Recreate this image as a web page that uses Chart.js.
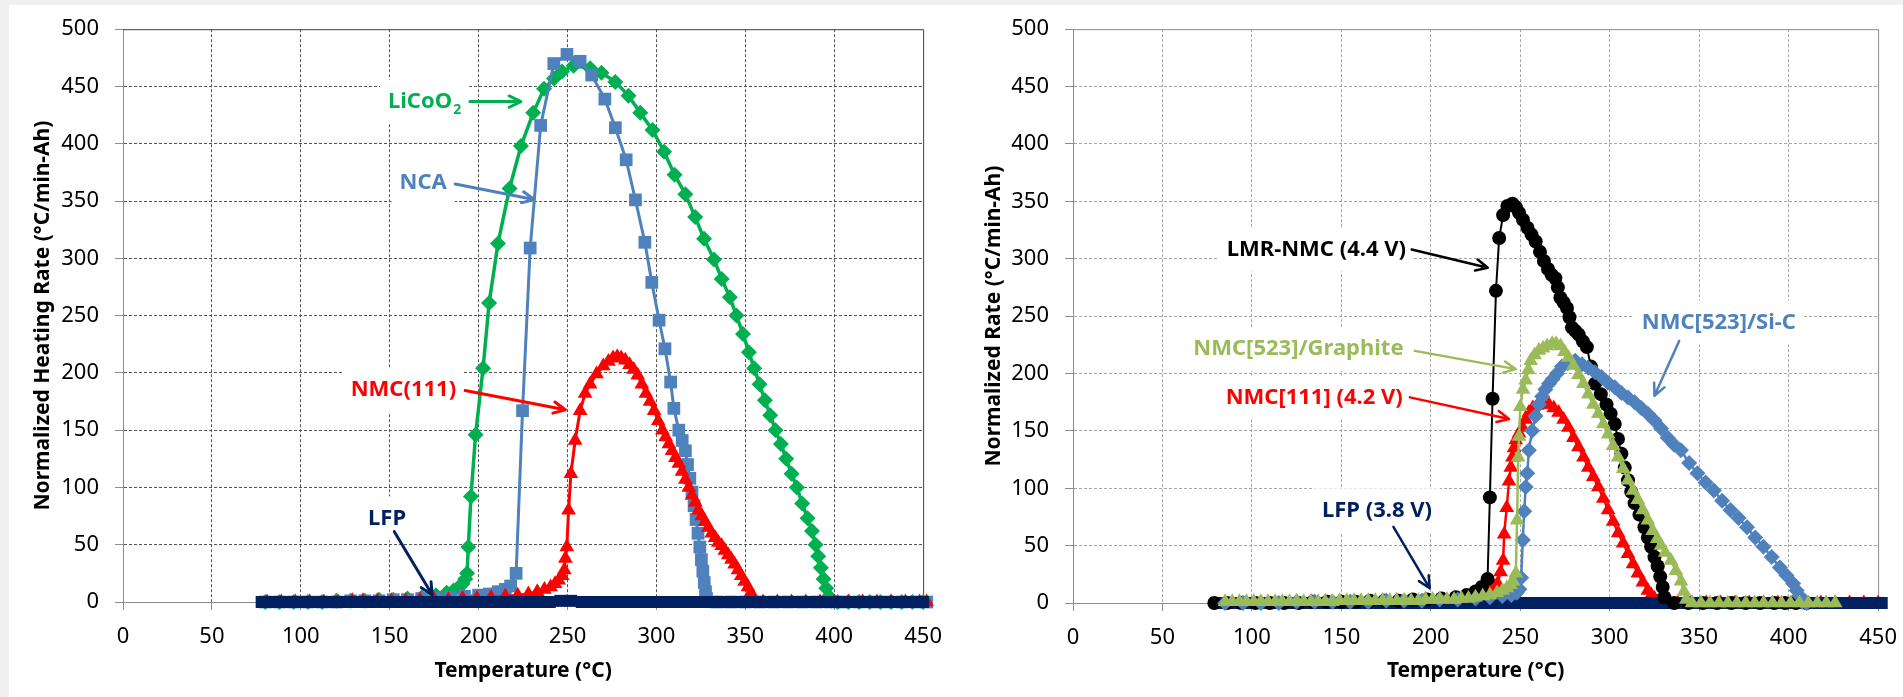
<!DOCTYPE html>
<html>
<head>
<meta charset="utf-8">
<script src="https://cdn.jsdelivr.net/npm/chart.js@4.4.1/dist/chart.umd.min.js"></script>
<style>
  html, body { margin: 0; padding: 0; }
  body { width: 1903px; height: 697px; background: #f0f0f0; overflow: hidden; position: relative; }
  #sheet { position: absolute; left: 9px; top: 5px; right: 0; bottom: 0; background: #fff; }
  canvas { position: absolute; top: 0; }
  #leftChart { left: 0; }
  #rightChart { left: 951px; }
</style>
</head>
<body>
<div id="sheet"></div>
<canvas id="leftChart" width="956" height="697"></canvas>
<canvas id="rightChart" width="960" height="697"></canvas>
<script>
// ---- left panel: cathode comparison ----
const licoo2T = [80, 88, 96, 104, 112, 120, 128, 136, 144, 152, 160, 168, 176, 182, 186, 189, 191, 192.5, 193.5, 194.2, 195.7, 198.3, 202.5, 205.9, 210.9, 217.4, 223.8, 230.7, 236.8, 242.4, 246.9, 253.4, 262.7, 269.1, 276.9, 284.3, 290.9, 297.8, 304.3, 310.2, 316.3, 321.8, 326.8, 332.4, 336.7, 341.3, 345, 348.7, 352, 355, 358, 361, 364, 367, 370, 373, 376, 379, 382, 385, 387.5, 389.5, 391, 392.5, 394, 395.5, 397, 398.5, 402, 408, 414, 420, 426, 432, 438, 444, 450, 453];
const licoo2Rate = [0, 0, 0, 0, 0, 1, 1, 1, 2, 2, 3, 4, 6, 8, 10, 13, 16, 20, 25, 48, 92, 146, 204, 261, 313, 361, 398, 427, 448, 457, 463, 468, 466, 462, 454, 442, 427, 412, 393, 373, 356, 336, 317, 299, 282, 266, 250, 234, 218, 204, 190, 176, 163, 150, 138, 125, 112, 100, 86, 73, 62, 50, 40, 30, 20, 12, 5, 1, 0, 0, 0, 0, 0, 0, 0, 0, 0, 0];

const ncaT = [80, 88, 96, 104, 112, 120, 128, 136, 144, 152, 160, 168, 176, 184, 192, 200, 206, 211, 215, 218, 221.1, 224.7, 229, 234.9, 242.3, 249.7, 257.1, 263.6, 271, 276.9, 283, 288.2, 293.5, 297.4, 301.5, 304.8, 308, 309.8, 312.6, 314.5, 316.3, 317.5, 318.8, 320, 321.2, 322.3, 323.4, 324.4, 325.3, 326.1, 326.9, 327.6, 328.2, 334, 342, 350, 358, 366, 374, 382, 390, 398, 406, 414, 422, 430, 438, 446, 452];
const ncaRate = [0, 0, 0, 0, 0, 0, 1, 1, 1, 2, 2, 3, 3, 4, 5, 6, 7, 9, 11, 14, 25, 167, 309, 416, 470, 478, 472, 460, 439, 414, 386, 351, 314, 279, 246, 221, 192, 169, 150, 141, 132, 120, 108, 96, 84, 72, 60, 48, 37, 27, 17, 9, 3, 0, 0, 0, 0, 0, 0, 0, 0, 0, 0, 0, 0, 0, 0, 0, 0];

const nmcT = [81, 89, 97, 105, 113, 121, 129, 135, 143, 151, 159, 167, 175, 183, 191, 199, 207, 215, 222, 228, 233, 237, 240.5, 243, 245, 247, 248.2, 248.8, 249.6, 250.6, 251.9, 254.3, 257.1, 259.9, 262.7, 266.3, 270.1, 273, 275.6, 278, 280.2, 282.5, 284.9, 287.2, 289.5, 291.8, 294.1, 296.4, 298.7, 301, 303.4, 305.2, 307, 308.8, 310.7, 312.6, 314.4, 316.3, 318.2, 320, 321.9, 323.7, 325.5, 327.4, 329.2, 331.1, 333, 334.8, 336.7, 338.5, 340.4, 342.2, 344, 345.9, 347.7, 349.6, 351.5, 353, 354.2, 355.5, 360, 368, 376, 384, 392, 400, 408, 416, 424, 432, 440, 448, 452];
const nmcRate = [0, 0, 0, 0, 0, 0, 1, 1, 1, 1, 1, 2, 2, 2, 3, 3, 4, 5, 6, 7, 9, 11, 13, 16, 19, 23, 28, 38, 48, 80, 112, 141, 167, 182, 190, 199, 206, 210, 213, 214, 213, 211, 207, 203, 198, 190, 182, 175, 167, 158, 150, 144, 138, 132, 126, 121, 114, 107, 100, 93, 87, 80, 75, 70, 65, 60, 56, 52, 49, 45, 41, 37, 33, 28, 23, 18, 13, 8, 5, 1, 0, 0, 0, 0, 0, 0, 0, 0, 0, 0, 0, 0, 0];

const lfpT = [78, 84, 90, 96, 102, 108, 114, 120, 126, 132, 138, 144, 150, 156, 162, 168, 174, 180, 186, 192, 198, 204, 210, 216, 222, 228, 234, 240, 246, 252, 258, 264, 270, 276, 282, 288, 294, 300, 306, 312, 318, 324, 330, 336, 342, 348, 354, 360, 366, 372, 378, 384, 390, 396, 402, 408, 414, 420, 426, 432, 438, 444, 450];
const lfpRate = [0, 0, 0, 0, 0, 0, 0, 0, 0, 0, 0, 0, 0, 0, 0, 0, 0, 0, 0, 0, 0, 0, 0, 0, 0, 0, 0, 0, 1, 1, 0, 0, 0, 0, 0, 0, 0, 0, 0, 0, 0, 0, 0, 0, 0, 0, 0, 0, 0, 0, 0, 0, 0, 0, 0, 0, 0, 0, 0, 0, 0, 0, 0];

// ---- right panel: cell chemistries ----
const lmrT = [79, 86, 94, 102, 110, 118, 126, 134, 142, 150, 158, 166, 174, 182, 190, 198, 206, 214, 220, 225, 228.5, 231.7, 233, 234.5, 236.4, 238.2, 240.4, 242.8, 245.6, 247.5, 249.3, 251.5, 254, 256.3, 258.6, 261, 263.2, 265.5, 267.5, 269.6, 271, 272.4, 274.2, 276.1, 277.5, 278.9, 280.8, 282.6, 285, 287.2, 289.5, 291.8, 295, 298.2, 300.5, 302.8, 304.6, 306.5, 308.4, 310.2, 312, 313.9, 316.6, 319.4, 321.3, 323.1, 325, 326.8, 328.2, 329.6, 330.5, 336, 344, 352, 360, 368, 376, 384, 392, 398, 404, 410];
const lmrRate = [0, 0, 0, 0, 0, 0, 0, 1, 1, 1, 1, 2, 2, 2, 3, 3, 4, 5, 7, 10, 14, 21, 92, 178, 272, 318, 338, 346, 348, 345, 340, 334, 327, 321, 315, 306, 298, 291, 286, 283, 275, 266, 262, 257, 249, 240, 237, 234, 228, 223, 206, 191, 182, 173, 165, 156, 143, 130, 118, 107, 97, 87, 77, 66, 57, 49, 40, 32, 23, 14, 5, 0, 0, 0, 0, 0, 0, 0, 0, 0, 0, 0];

const graphiteT = [85, 89, 93, 97, 101, 105, 109, 113, 117, 121, 125, 129, 133, 137, 141, 145, 149, 153, 157, 161, 165, 169, 173, 177, 181, 185, 189, 193, 197, 201, 205, 209, 213, 217, 221, 225, 229, 233, 237, 240, 242.5, 244.5, 246, 247.5, 248.2, 248.8, 249.3, 250, 251.5, 253, 254.5, 255.8, 258, 260.4, 262.7, 265, 267.8, 270, 272.5, 274.7, 276.9, 279.7, 282.5, 285.3, 288, 290.8, 293.6, 296.4, 299.1, 301.9, 304.7, 307.5, 310.2, 313, 315.7, 318.5, 321.3, 324, 326.5, 328.7, 331, 334.2, 337, 339.8, 341.5, 342.8, 346, 351, 356, 361, 366, 371, 376, 381, 386, 391, 396, 401, 406, 411, 416, 421, 426];
const graphiteRate = [1, 1, 1, 1, 1, 1, 1, 1, 1, 1, 1, 1, 1, 1, 1, 1, 2, 2, 2, 2, 2, 2, 2, 2, 2, 2, 2, 2, 3, 3, 3, 3, 3, 4, 4, 5, 6, 7, 9, 11, 13, 16, 19, 26, 72, 127, 145, 171, 186, 194, 203, 211, 216, 220, 222, 224, 226, 226, 224, 219, 214, 207, 199, 191, 182, 173, 165, 156, 147, 137, 127, 117, 107, 98, 90, 81, 72, 63, 56, 50, 44, 37, 28, 19, 10, 3, 0, 0, 0, 0, 0, 0, 0, 0, 0, 0, 0, 0, 0, 0, 0, 0, 0];

const siCT = [85, 95, 105, 115, 125, 135, 145, 155, 165, 175, 185, 195, 205, 215, 225, 233, 240, 245, 248, 249.5, 250.5, 251.4, 252.2, 253, 253.9, 254.8, 256.6, 258.5, 260.4, 262.2, 264, 266, 268, 270.5, 273.3, 276.5, 280.7, 284.5, 288, 291.7, 295.4, 299, 302.8, 306.5, 310.2, 313.9, 317.6, 321.3, 325, 328.7, 332.4, 336, 339.8, 344.4, 349, 353.6, 358.2, 362.8, 367.5, 372, 376.7, 381.3, 385.9, 390.5, 395.1, 398.8, 402.5, 404.5, 406.2, 407.5, 410];
const siCRate = [0, 0, 0, 0, 1, 1, 1, 1, 1, 2, 2, 2, 3, 3, 4, 5, 6, 7, 9, 12, 22, 55, 80, 101, 113, 133, 150, 163, 173, 180, 186, 191, 195, 200, 206, 209, 211, 208, 205, 201, 197, 192, 188, 183, 179, 175, 170, 165, 159, 152, 144, 138, 133, 122, 113, 105, 98, 89, 81, 74, 66, 57, 49, 40, 31, 24, 17, 11, 6, 1, 0];

const nmc111T = [85, 93, 101, 109, 117, 125, 133, 141, 149, 157, 165, 173, 181, 189, 197, 205, 213, 220, 226, 230, 233, 235.5, 237.3, 239, 240.4, 241, 242.4, 243.7, 244.7, 245.6, 246.5, 247.5, 249.3, 251.2, 253, 254.8, 257, 259.5, 262.7, 266, 268.7, 271.4, 274.2, 276.9, 279.7, 282.5, 285.3, 288, 290.8, 293.6, 296.4, 299.1, 301.9, 304.7, 307.5, 310.2, 313, 315.7, 318.5, 321.3, 323.2, 325, 326.5, 330, 338, 346, 354, 362, 370, 378, 386, 394, 402, 410, 418, 426, 434, 442, 450, 452];
const nmc111Rate = [0, 0, 0, 0, 0, 1, 1, 1, 1, 1, 1, 2, 2, 2, 3, 3, 4, 5, 7, 9, 11, 14, 17, 27, 37, 60, 83, 106, 118, 127, 135, 142, 148, 153, 160, 166, 170, 172, 173, 173, 170, 166, 160, 153, 144, 136, 127, 118, 110, 101, 91, 81, 71, 61, 52, 43, 34, 26, 18, 11, 7, 4, 1, 0, 0, 0, 0, 0, 0, 0, 0, 0, 0, 0, 0, 0, 0, 0, 0, 0];

const lfp38T = [80, 86, 92, 98, 104, 110, 116, 122, 128, 134, 140, 146, 152, 158, 164, 170, 176, 182, 188, 194, 200, 206, 212, 218, 224, 230, 236, 242, 248, 254, 260, 266, 272, 278, 284, 290, 296, 302, 308, 314, 320, 326, 332, 338, 344, 350, 356, 362, 368, 374, 380, 386, 392, 398, 404, 410, 416, 422, 428, 434, 440, 446, 452];
const lfp38Rate = [0, 0, 0, 0, 0, 0, 0, 0, 0, 0, 0, 0, 0, 0, 0, 0, 0, 0, 0, 0, 0, 0, 0, 0, 0, 0, 0, 0, 0, 0, 0, 0, 0, 0, 0, 0, 0, 0, 0, 0, 0, 0, 0, 0, 0, 0, 0, 0, 0, 0, 0, 0, 0, 0, 0, 0, 0, 0, 0, 0, 0, 0, 0];

const FONT = '"Noto Sans", "Open Sans", sans-serif';
Chart.defaults.font.family = FONT;
Chart.defaults.color = '#000';

function series(label, xs, ys, color, style, radius, width, order) {
  return {
    label,
    data: xs.map((t, i) => ({ x: t, y: ys[i] })),
    borderColor: color,
    backgroundColor: color,
    pointBackgroundColor: color,
    pointBorderColor: color,
    pointBorderWidth: 0,
    pointStyle: style,
    pointRadius: radius,
    borderWidth: width,
    tension: 0,
    clip: false,
    order
  };
}

function axes(gridColor, yTitle, yWidth, xHeight) {
  const skipEdges = (lo, hi) => c =>
    (c.tick && (c.tick.value === lo || c.tick.value === hi)) ? 'rgba(0,0,0,0)' : gridColor;
  return {
    x: {
      type: 'linear', min: 0, max: 450,
      afterFit: s => { s.height = xHeight; },
      ticks: { stepSize: 50, autoSkip: false, maxRotation: 0, padding: 14, font: { size: 22 }, color: '#000' },
      grid: { color: skipEdges(0, 450), tickColor: '#8c8c8c', tickLength: 8, lineWidth: 1 },
      border: { color: '#8c8c8c', width: 1, dash: [3, 2] },
      title: { display: true, text: 'Temperature (°C)', color: '#000',
               font: { size: 21, weight: 'bold' }, padding: { top: 0, bottom: 13 } }
    },
    y: {
      type: 'linear', min: 0, max: 500,
      afterFit: s => { s.width = yWidth; },
      ticks: { stepSize: 50, padding: 16, font: { size: 22 }, color: '#000' },
      grid: { color: skipEdges(0, 500), tickColor: '#8c8c8c', tickLength: 8, lineWidth: 1 },
      border: { color: '#8c8c8c', width: 1, dash: [3, 2] },
      title: { display: true, text: yTitle, color: '#000',
               font: { size: 21, weight: 'bold' }, padding: { top: 30, bottom: 0 } }
    }
  };
}

// top and right edges of the plot box
function frame(color) {
  return {
    id: 'frame',
    beforeDatasetsDraw(chart) {
      const { ctx, chartArea: a } = chart;
      ctx.save();
      ctx.strokeStyle = color;
      ctx.lineWidth = 1;
      ctx.beginPath();
      ctx.moveTo(a.left, a.top + 0.5);
      ctx.lineTo(a.right + 0.5, a.top + 0.5);
      ctx.lineTo(a.right + 0.5, a.bottom);
      ctx.stroke();
      ctx.restore();
    }
  };
}

// text labels with arrows pointing at the curves, anchored in data units
function callouts(notes, arrowWidth) {
  return {
    id: 'callouts',
    afterDatasetsDraw(chart) {
      const { ctx, scales: { x, y } } = chart;
      const main = 'bold 22px ' + FONT, small = 'bold 14px ' + FONT;
      ctx.save();
      notes.forEach(n => {
        const cx = x.getPixelForValue(n.at[0]), cy = y.getPixelForValue(n.at[1]);
        ctx.font = main;
        const w = ctx.measureText(n.text).width;
        let sw = 0;
        if (n.sub) { ctx.font = small; sw = ctx.measureText(n.sub).width + 1; }
        const left = cx - (w + sw) / 2;
        ctx.fillStyle = '#fff';
        ctx.fillRect(left - 8, cy - 22, w + sw + 16, 44);
        ctx.fillStyle = n.color;
        ctx.textAlign = 'left';
        ctx.textBaseline = 'middle';
        ctx.font = main;
        ctx.fillText(n.text, left, cy);
        if (n.sub) { ctx.font = small; ctx.fillText(n.sub, left + w + 1, cy + 8); }

        const x1 = x.getPixelForValue(n.from[0]), y1 = y.getPixelForValue(n.from[1]);
        const x2 = x.getPixelForValue(n.to[0]), y2 = y.getPixelForValue(n.to[1]);
        const a = Math.atan2(y2 - y1, x2 - x1), h = 13, s = 0.45;
        ctx.strokeStyle = n.color;
        ctx.lineWidth = arrowWidth;
        ctx.lineCap = 'round';
        ctx.lineJoin = 'round';
        ctx.beginPath();
        ctx.moveTo(x1, y1);
        ctx.lineTo(x2, y2);
        ctx.moveTo(x2 - h * Math.cos(a - s), y2 - h * Math.sin(a - s));
        ctx.lineTo(x2, y2);
        ctx.lineTo(x2 - h * Math.cos(a + s), y2 - h * Math.sin(a + s));
        ctx.stroke();
      });
      ctx.restore();
    }
  };
}

const leftNotes = [
  { text: 'LiCoO', sub: '2', color: '#00b050', at: [169.6, 436.8], from: [195.1, 436.8], to: [223.8, 436.8] },
  { text: 'NCA', color: '#4f81bd', at: [168.8, 365.7], from: [186.8, 364.9], to: [231.2, 351.3] },
  { text: 'NMC(111)', color: '#ff0000', at: [157.7, 185.2], from: [192.4, 184.6], to: [248.8, 167.8] },
  { text: 'LFP', color: '#002060', at: [148.5, 73], from: [152.6, 61.4], to: [173.9, 6.3] }
];

const rightNotes = [
  { text: 'LMR-NMC (4.4 V)', color: '#000000', at: [136, 308], from: [189.3, 308], to: [231.8, 292.1] },
  { text: 'NMC[523]/Graphite', color: '#9bbb59', at: [126, 221.2], from: [191.1, 219.7], to: [247.4, 203.8] },
  { text: 'NMC[111] (4.2 V)', color: '#ff0000', at: [134.8, 179.2], from: [188.3, 179.2], to: [243.7, 160.4] },
  { text: 'NMC[523]/Si-C', color: '#4f81bd', at: [361, 244.3], from: [338.8, 228.4], to: [325, 180.6] },
  { text: 'LFP (3.8 V)', color: '#002060', at: [169.9, 80.8], from: [179.1, 66.3], to: [199.4, 12.8] }
];

const common = {
  responsive: false,
  animation: false,
  devicePixelRatio: 1,
  plugins: { legend: { display: false }, tooltip: { enabled: false } }
};

new Chart(document.getElementById('leftChart'), {
  type: 'line',
  data: {
    datasets: [
      series('LFP', lfpT, lfpRate, '#002060', 'rect', 8.5, 3, 0),
      series('NMC(111)', nmcT, nmcRate, '#ff0000', 'triangle', 8.5, 3, 1),
      series('NCA', ncaT, ncaRate, '#4f81bd', 'rect', 9, 3, 2),
      series('LiCoO2', licoo2T, licoo2Rate, '#00b050', 'rectRot', 8, 3.5, 3)
    ]
  },
  options: {
    ...common,
    layout: { padding: { left: 0, top: 27, right: 22, bottom: 0 } },
    scales: axes('#555555', 'Normalized Heating Rate (°C/min-Ah)', 123, 95)
  },
  plugins: [frame('#404040'), callouts(leftNotes, 3)]
});

new Chart(document.getElementById('rightChart'), {
  type: 'line',
  data: {
    datasets: [
      series('NMC[523]/Graphite', graphiteT, graphiteRate, '#9bbb59', 'triangle', 8.5, 2.5, 0),
      series('NMC[523]/Si-C', siCT, siCRate, '#4f81bd', 'rectRot', 8, 2.5, 1),
      series('LMR-NMC (4.4 V)', lmrT, lmrRate, '#000000', 'circle', 7, 2, 2),
      series('LFP (3.8 V)', lfp38T, lfp38Rate, '#002060', 'rect', 8.5, 2.5, 3),
      series('NMC[111] (4.2 V)', nmc111T, nmc111Rate, '#ff0000', 'triangle', 8.5, 2.5, 4)
    ]
  },
  options: {
    ...common,
    layout: { padding: { left: 0, top: 27, right: 25, bottom: 0 } },
    scales: axes('#a6a6a6', 'Normalized Rate (°C/min-Ah)', 122, 94)
  },
  plugins: [frame('#8c8c8c'), callouts(rightNotes, 2.5)]
});
</script>
</body>
</html>
